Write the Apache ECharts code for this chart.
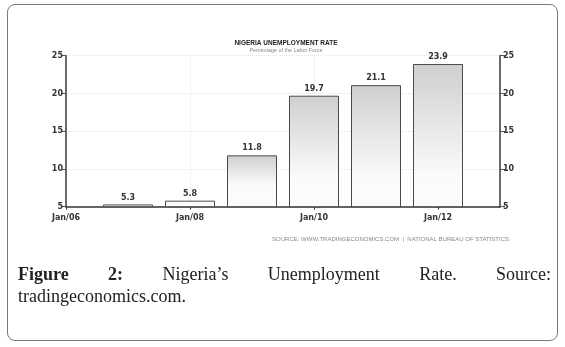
<!DOCTYPE html>
<html>
<head>
<meta charset="utf-8">
<script src="https://cdn.jsdelivr.net/npm/echarts@6/dist/echarts.min.js"></script>
<style>
  html, body { margin: 0; padding: 0; background: #fff; }
  #frame {
    position: absolute; left: 7px; top: 4px; width: 549px; height: 335px;
    border: 1.5px solid #7a7a7a; border-radius: 8px;
  }
  #chart { position: absolute; left: 0; top: 0; width: 565px; height: 347px; }
  #caption {
    position: absolute; left: 18px; top: 263px; width: 533px;
    font-family: "Liberation Serif", "DejaVu Serif", serif; font-size: 18px;
    line-height: 22px; color: #222;
  }
  #caption .l1 { text-align: justify; text-align-last: justify; }
  #caption b { font-weight: bold; }
</style>
</head>
<body>
<div id="frame"></div>
<div id="chart"></div>
<div id="caption"><div class="l1"><b>Figure 2:</b> Nigeria’s Unemployment Rate. Source:</div><div>tradingeconomics.com.</div></div>
<script>
const categories = ["Jan/06", "Jan/07", "Jan/08", "Jan/09", "Jan/10", "Jan/11", "Jan/12", "Jan/13"];
const rates = [null, 5.3, 5.8, 11.8, 19.7, 21.1, 23.9, null];
const yTicks = [5, 10, 15, 20, 25];

const chartTitle = "NIGERIA UNEMPLOYMENT RATE";
const chartSubtitle = "Percentage of the Labor Force";
const sourceText = "SOURCE: WWW.TRADINGECONOMICS.COM  |  NATIONAL BUREAU OF STATISTICS";

const yMin = yTicks[0];
const yMax = yTicks[yTicks.length - 1];

const chart = echarts.init(document.getElementById("chart"));

// gradient runs from grey at the bar top to white at the visible bottom (y = 5)
const barData = rates.map((v) => {
  if (v == null) return "-";
  const edge = Math.max(0.01, Math.min(1, (v - yMin) / v));
  return {
    value: v,
    itemStyle: {
      color: new echarts.graphic.LinearGradient(0, 0, 0, 1, [
        { offset: 0, color: "#cfcfcf" },
        { offset: edge, color: "#fbfbfb" },
        { offset: 1, color: "#fbfbfb" },
      ]),
    },
  };
});

const valueAxis = (pos) => ({
  type: "value",
  position: pos,
  min: yMin,
  max: yMax,
  interval: 5,
  axisLine: { show: true, lineStyle: { color: "#6a6a6a", width: 2 } },
  axisTick: { show: true, length: 5, lineStyle: { color: "#555", width: 1 } },
  axisLabel: {
    margin: 3,
    color: "#333",
    fontFamily: "DejaVu Sans",
    fontSize: 8,
    fontWeight: "bold",
  },
  splitLine: pos === "left"
    ? { show: true, lineStyle: { color: "#e4e4e4", type: "dotted", width: 1 } }
    : { show: false },
});

chart.setOption({
  animation: false,
  title: [
    {
      text: chartTitle,
      left: 281,
      top: 35,
      textAlign: "center",
      textStyle: { fontFamily: "Liberation Sans", fontSize: 6.5, fontWeight: "bold", color: "#222" },
    },
    {
      text: chartSubtitle,
      left: 281,
      top: 43,
      textAlign: "center",
      textStyle: { fontFamily: "Liberation Sans", fontSize: 5.4, fontWeight: "normal", color: "#888" },
    },
    {
      text: sourceText,
      right: 51,
      top: 231,
      textStyle: { fontFamily: "Liberation Sans", fontSize: 6, fontWeight: "normal", color: "#888" },
    },
  ],
  grid: { left: 66, right: 65, top: 55.7, bottom: 140.3, containLabel: false },
  xAxis: {
    type: "category",
    data: categories,
    boundaryGap: false,
    axisLine: { show: true, onZero: false, lineStyle: { color: "#333", width: 1.5 } },
    axisTick: { show: true, interval: 1, length: 3, lineStyle: { color: "#333" } },
    axisLabel: {
      interval: 1,
      margin: 7,
      color: "#333",
      fontFamily: "DejaVu Sans",
      fontSize: 8,
      fontWeight: "bold",
    },
    splitLine: { show: true, interval: 1, lineStyle: { color: "#e6e6e6", type: "dotted" } },
  },
  yAxis: [valueAxis("left"), valueAxis("right")],
  series: [
    {
      type: "bar",
      data: barData,
      barWidth: 50,
      clip: true,
      itemStyle: { borderColor: "#4a4a4a", borderWidth: 1 },
      label: {
        show: true,
        position: "top",
        distance: 3,
        color: "#333",
        fontFamily: "DejaVu Sans",
        fontSize: 8,
        fontWeight: "bold",
      },
    },
  ],
});
</script>
</body>
</html>
